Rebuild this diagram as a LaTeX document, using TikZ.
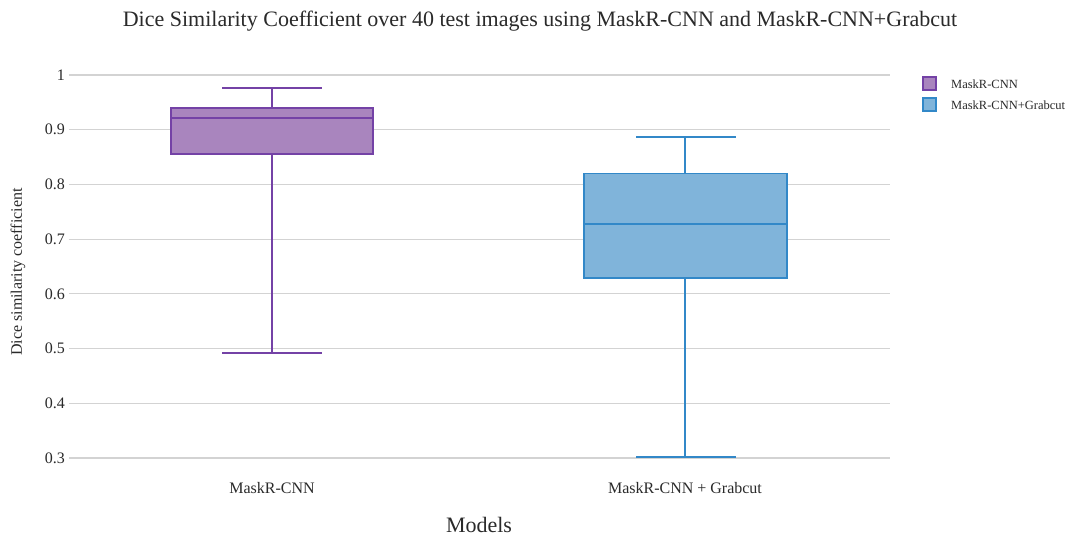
\documentclass[tikz,border=0pt]{standalone}
\usepackage{fontspec}
\setmainfont{Liberation Serif}
\definecolor{gridgray}{HTML}{D3D3D3}
\definecolor{purpleline}{HTML}{7442A6}
\definecolor{purplefill}{HTML}{A985BE}
\definecolor{blueline}{HTML}{3288C8}
\definecolor{bluefill}{HTML}{80B4DA}
\definecolor{textgray}{HTML}{2A2A2A}
\tikzset{
  grid line/.style={gridgray, line width=1.2pt},
  tick label/.style={anchor=east, font=\fontsize{16}{16}\selectfont, text=textgray, inner sep=0pt},
  cat label/.style={anchor=center, font=\fontsize{16}{16}\selectfont, text=textgray, inner sep=0pt},
  box a/.style={draw=purpleline, fill=purplefill, line width=1.6pt},
  box b/.style={draw=blueline, fill=bluefill, line width=1.6pt},
  whisk a/.style={purpleline, line width=1.6pt},
  whisk b/.style={blueline, line width=1.6pt},
  legend text/.style={anchor=west, font=\fontsize{12.5}{12.5}\selectfont, text=textgray, inner sep=0pt},
}
% value on the y axis -> vertical pixel position
\newcommand{\yv}[1]{\fpeval{75+(1-#1)*547}}
\begin{document}
\begin{tikzpicture}[x=1pt, y=-1pt]
\useasboundingbox[fill=white] (0,0) rectangle (1069,536);

% title
\node[font=\fontsize{22}{22}\selectfont, text=textgray] (title) at (540,21)
  {Dice Similarity Coefficient over 40 test images using MaskR-CNN and MaskR-CNN+Grabcut};

% horizontal grid and tick labels
\foreach \v/\t in {1/1, 0.9/0.9, 0.8/0.8, 0.7/0.7, 0.6/0.6, 0.5/0.5, 0.4/0.4, 0.3/0.3}{
  \draw[grid line] (69,{\yv{\v}}) -- (890,{\yv{\v}});
  \node[tick label] at (65,{\yv{\v}}) {\t};
}

% axis titles
\node[rotate=90, font=\fontsize{16}{16}\selectfont, text=textgray] (ytitle) at (18,272) {Dice similarity coefficient};
\node[font=\fontsize{22}{22}\selectfont, text=textgray] (xtitle) at (479,525) {Models};

% category labels
\node[cat label] (cata) at (272,488) {MaskR-CNN};
\node[cat label] (catb) at (685,488) {MaskR-CNN + Grabcut};

% box for MaskR-CNN
\draw[whisk a] (272,{\yv{0.976}}) -- (272,{\yv{0.940}});
\draw[whisk a] (272,{\yv{0.856}}) -- (272,{\yv{0.492}});
\draw[whisk a] (222,{\yv{0.976}}) -- (322,{\yv{0.976}});
\draw[whisk a] (222,{\yv{0.492}}) -- (322,{\yv{0.492}});
\draw[box a] (171,{\yv{0.940}}) rectangle (373,{\yv{0.856}});
\draw[whisk a] (171,{\yv{0.921}}) -- (373,{\yv{0.921}});

% box for MaskR-CNN + Grabcut
\draw[whisk b] (685,{\yv{0.887}}) -- (685,{\yv{0.820}});
\draw[whisk b] (685,{\yv{0.629}}) -- (685,{\yv{0.302}});
\draw[whisk b] (636,{\yv{0.887}}) -- (736,{\yv{0.887}});
\draw[whisk b] (636,{\yv{0.302}}) -- (736,{\yv{0.302}});
\draw[box b] (584,{\yv{0.820}}) rectangle (787,{\yv{0.629}});
\draw[whisk b] (584,{\yv{0.728}}) -- (787,{\yv{0.728}});

% legend
\draw[box a, line width=1.2pt] (923,77) rectangle (936,90);
\node[legend text] (lega) at (951,84) {MaskR-CNN};
\draw[box b, line width=1.2pt] (923,98) rectangle (936,111);
\node[legend text] (legb) at (951,105) {MaskR-CNN+Grabcut};
\end{tikzpicture}
\end{document}
